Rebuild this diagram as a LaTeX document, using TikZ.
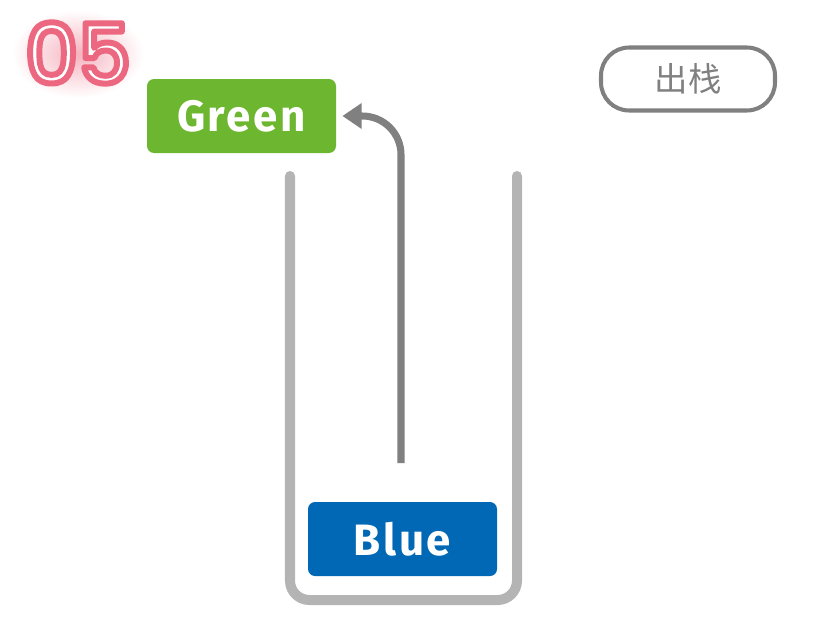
\documentclass[tikz,border=0pt]{standalone}
\usepackage{fontspec}
\usepackage{xcolor}
\usepackage{tikz}
\usetikzlibrary{arrows.meta}
\newfontfamily\numfont{Poppins Medium}
\newfontfamily\boxfont[LetterSpace=6]{Fira Sans Bold}
\newfontfamily\cjkfont{Noto Sans CJK SC}
\definecolor{stackgray}{RGB}{180,180,180}
\definecolor{arrowgray}{RGB}{128,128,128}
\definecolor{greenbox}{RGB}{109,182,47}
\definecolor{bluebox}{RGB}{0,104,180}
\definecolor{stepred}{RGB}{236,104,128}
% white letters with a red outline
\newcommand{\outlinetext}[1]{%
  \special{pdf:code q 2 Tr 3.4 w 1 j 0.925 0.408 0.502 RG}#1\special{pdf:code Q}}

\begin{document}
\begin{tikzpicture}
  [x=0.02cm, y=-0.02cm,
   itembox/.style={minimum width=189*0.02cm, minimum height=74*0.02cm,
     rounded corners=4pt, inner sep=0, text=white,
     font=\boxfont\fontsize{25}{25}\selectfont},
   wall/.style={line width=5.7pt, draw=stackgray, line cap=round},
   popline/.style={line width=4pt, draw=arrowgray, rounded corners=22pt,
     -{Triangle[length=11pt, width=14pt]}}]

  \useasboundingbox (0,0) rectangle (831,619);

  % step number
  \shade[inner color=stepred!50, outer color=white] (78,54) ellipse (66 and 44);
  \node[inner sep=0, text=white] (num) at (78,53)
    {\numfont\fontsize{47}{47}\selectfont\outlinetext{05}};

  % button
  \node[draw=arrowgray, line width=2.3pt, rounded corners=16pt,
        minimum width=174*0.02cm, minimum height=63*0.02cm, text=arrowgray,
        font=\cjkfont\fontsize{19}{19}\selectfont] (pop) at (688,79) {出栈};

  % stack
  \draw[wall, rounded corners=11pt] (290,176) -- (290,600) -- (517,600) -- (517,176);

  % items
  \node[itembox, fill=greenbox] (green) at (241.5,116) {Green};
  \node[itembox, fill=bluebox] (blue) at (402.5,539) {Blue};

  % pop arrow
  \coordinate (start) at (401,463);
  \draw[popline] (start) |- ([xshift=6*0.02cm]green.east);

\end{tikzpicture}
\end{document}
